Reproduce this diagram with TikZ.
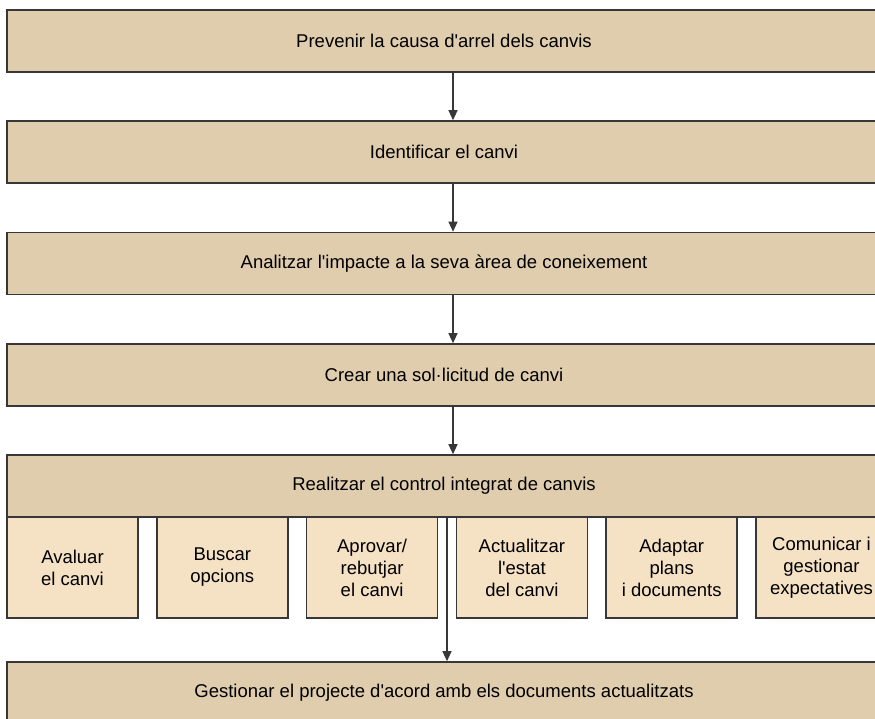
\documentclass[tikz,border=0pt]{standalone}
\usepackage{fontspec}
\setmainfont{Liberation Sans}
\usepackage{tikz}
\usetikzlibrary{arrows.meta}
\definecolor{stepfill}{RGB}{224,205,173}
\definecolor{subfill}{RGB}{245,225,195}
\definecolor{edgegray}{RGB}{55,55,55}
\newcommand{\apos}{\textquotesingle}
\tikzstyle{arrow} = [-{Triangle[width=9pt,length=10pt]},line width=1.2pt,draw=edgegray]
\tikzstyle{stepbox} = [draw=edgegray,line width=1.6pt,fill=stepfill,minimum width=874pt,minimum height=62pt,inner sep=0pt,font=\fontsize{18.5}{22}\selectfont]
\tikzstyle{subbox} = [draw=edgegray,line width=1.6pt,fill=subfill,minimum width=131pt,minimum height=101pt,inner sep=0pt,align=center,font=\fontsize{18.5}{22}\selectfont]

\begin{document}
\begin{tikzpicture}[x=1pt,y=-1pt]
        \useasboundingbox (0,0) rectangle (875,718);
        \clip (0,0) rectangle (875,718);
        % main steps
        \node[stepbox] at (444,41) (s1) {Prevenir la causa d\apos arrel dels canvis};
        \node[stepbox] at (444,152) (s2) {Identificar el canvi};
        \node[stepbox] at (444,263.5) (s3) {Analitzar l\apos impacte a la seva \`area de coneixement};
        \node[stepbox] at (444,375) (s4) {Crear una sol·licitud de canvi};
        \node[stepbox] at (444,486) (s5) {Realitzar el control integrat de canvis};
        \node[stepbox] at (444,693) (s6) {Gestionar el projecte d\apos acord amb els documents actualitzats};

        % sub-steps of the integrated control
        \node[subbox] at (72.5,567.5) (c1) {Avaluar\\el canvi};
        \node[subbox] at (222.3,567.5) (c2) {Buscar\\opcions};
        \node[subbox] at (372.1,567.5) (c3) {Aprovar/\\rebutjar\\el canvi};
        \node[subbox] at (521.9,567.5) (c4) {Actualitzar\\l\apos estat\\del canvi};
        \node[subbox] at (671.7,567.5) (c5) {Adaptar\\plans\\i documents};
        \node[subbox] at (821.5,567.5) (c6) {Comunicar i\\gestionar\\expectatives};

        \draw[arrow] ([xshift=9pt]s1.south) -- ([xshift=9pt]s2.north);
        \draw[arrow] ([xshift=9pt]s2.south) -- ([xshift=9pt]s3.north);
        \draw[arrow] ([xshift=9pt]s3.south) -- ([xshift=9pt]s4.north);
        \draw[arrow] ([xshift=9pt]s4.south) -- ([xshift=9pt]s5.north);
        \draw[arrow] ([xshift=3pt]s5.south) -- ([xshift=3pt]s6.north);
\end{tikzpicture}
\end{document}
